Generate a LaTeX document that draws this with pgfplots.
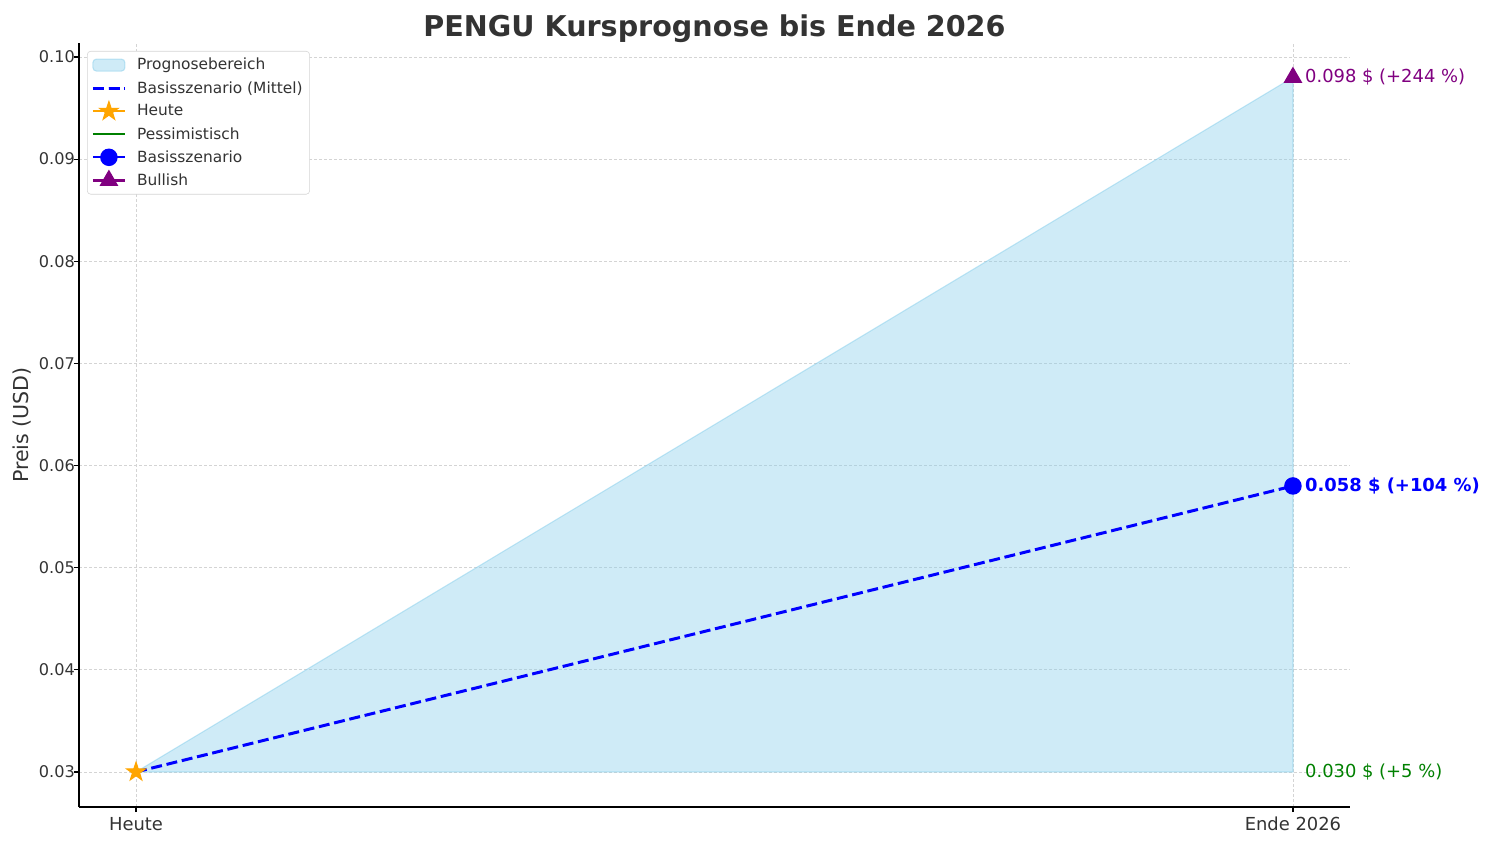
\documentclass[border=0pt]{standalone}
\usepackage{fontspec}
\setmainfont{DejaVu Sans}
\usepackage{pgfplots}
\pgfplotsset{compat=1.18}

\definecolor{skyfill}{RGB}{135,206,235}
\definecolor{mplblue}{RGB}{0,0,255}
\definecolor{mplorange}{RGB}{255,165,0}
\definecolor{mplgreen}{RGB}{0,128,0}
\definecolor{mplpurple}{RGB}{128,0,128}
\definecolor{txt}{RGB}{51,51,51}
\definecolor{gridc}{RGB}{212,212,212}

% filled five-pointed star, like matplotlib's '*'
\pgfdeclareplotmark{fstar}{%
  \pgfpathmoveto{\pgfpointpolar{90}{\pgfplotmarksize}}%
  \pgfpathlineto{\pgfpointpolar{126}{0.382\pgfplotmarksize}}%
  \pgfpathlineto{\pgfpointpolar{162}{\pgfplotmarksize}}%
  \pgfpathlineto{\pgfpointpolar{198}{0.382\pgfplotmarksize}}%
  \pgfpathlineto{\pgfpointpolar{234}{\pgfplotmarksize}}%
  \pgfpathlineto{\pgfpointpolar{270}{0.382\pgfplotmarksize}}%
  \pgfpathlineto{\pgfpointpolar{306}{\pgfplotmarksize}}%
  \pgfpathlineto{\pgfpointpolar{342}{0.382\pgfplotmarksize}}%
  \pgfpathlineto{\pgfpointpolar{18}{\pgfplotmarksize}}%
  \pgfpathlineto{\pgfpointpolar{54}{0.382\pgfplotmarksize}}%
  \pgfpathclose
  \pgfusepathqfillstroke
}

\pgfplotsset{
  patch legend/.style={
    legend image code/.code={\draw[##1] (0pt,-4.3pt) rectangle (23pt,4.3pt);}
  }
}

\begin{document}
\begin{tikzpicture}
\path[use as bounding box] (0,0) rectangle (1080pt,607.68pt);
\begin{axis}[
  at={(56.88pt,26.64pt)}, anchor=south west,
  scale only axis, width=915.1pt, height=550.1pt,
  xmin=-0.0493, xmax=1.0493,
  ymin=0.02657, ymax=0.10137,
  clip=false,
  axis x line*=bottom, axis y line*=left,
  axis line style={black, line width=0.86pt},
  tick align=outside, major tick length=3.76pt,
  tick style={black, line width=0.86pt},
  xtick={0,1}, xticklabels={Heute, Ende 2026},
  ytick={0.03,0.04,0.05,0.06,0.07,0.08,0.09,0.10},
  scaled y ticks=false,
  xticklabel style={font=\fontsize{12.9}{15}\selectfont, text=txt},
  yticklabel style={font=\fontsize{11.6}{14}\selectfont, text=txt, xshift=4.3pt,
    /pgf/number format/.cd, fixed, fixed zerofill, precision=2, assume math mode=true},
  grid=major,
  major grid style={gridc, line width=0.55pt, dash pattern=on 2.2pt off 1.4pt},
  title={PENGU Kursprognose bis Ende 2026},
  every axis title shift=0pt,
  title style={at={(axis description cs:0.5,1)}, anchor=base, yshift=4.3pt,
    font=\bfseries\fontsize{20.6}{24}\selectfont, text=txt},
  ylabel={Preis (USD)},
  ylabel style={at={(axis description cs:-0.0445,0.5)}, anchor=center,
    font=\fontsize{14.8}{17}\selectfont, text=txt},
  legend style={
    at={(axis description cs:0,1)}, anchor=north west,
    xshift=5.76pt, yshift=-5.76pt,
    draw=gridc, rounded corners=2.5pt, fill=white,
    font=\fontsize{11.1}{13}\selectfont, text=txt,
    inner sep=3pt, row sep=2.7pt,
    /tikz/every odd column/.append style={column sep=5.7pt}
  },
  legend cell align=left,
  legend image code/.code={\draw[mark repeat=2,mark phase=2]
    plot coordinates {(0pt,0pt) (11.5pt,0pt) (23pt,0pt)};},
]
\addplot[draw=skyfill, draw opacity=0.5, fill=skyfill, fill opacity=0.4, line width=0.8pt, patch legend]
  coordinates {(0,0.030) (1,0.098) (1,0.030) (0,0.030)} -- cycle;
\addplot[mplblue, line width=2.15pt, dash pattern=on 7.9pt off 3.4pt]
  coordinates {(0,0.030) (1,0.058)};
\addplot[mplorange, line width=1.6pt, mark=fstar, mark size=7pt, mark options={solid, line width=0.8pt}]
  coordinates {(0,0.030)};
\addplot[mplgreen, line width=1.6pt]
  coordinates {(1,0.030)};
\addplot[mplblue, line width=1.6pt, mark=*, mark size=5.5pt, mark options={solid}]
  coordinates {(1,0.058)};
\addplot[mplpurple, line width=1.6pt, mark=triangle*, mark size=6.2pt, mark options={solid}]
  coordinates {(1,0.098)};
\legend{Prognosebereich, Basisszenario (Mittel), Heute, Pessimistisch, Basisszenario, Bullish}

\node[anchor=west, inner sep=0pt, xshift=8.6pt, text=mplpurple,
  font=\fontsize{12.9}{15}\selectfont] at (axis cs:1,0.098) {0.098 \$ (+244 \%)};
\node[anchor=west, inner sep=0pt, xshift=8.6pt, text=mplblue,
  font=\bfseries\fontsize{12.9}{15}\selectfont] at (axis cs:1,0.058) {0.058 \$ (+104 \%)};
\node[anchor=west, inner sep=0pt, xshift=8.6pt, text=mplgreen,
  font=\fontsize{12.9}{15}\selectfont] at (axis cs:1,0.030) {0.030 \$ (+5 \%)};
\end{axis}
\end{tikzpicture}
\end{document}
